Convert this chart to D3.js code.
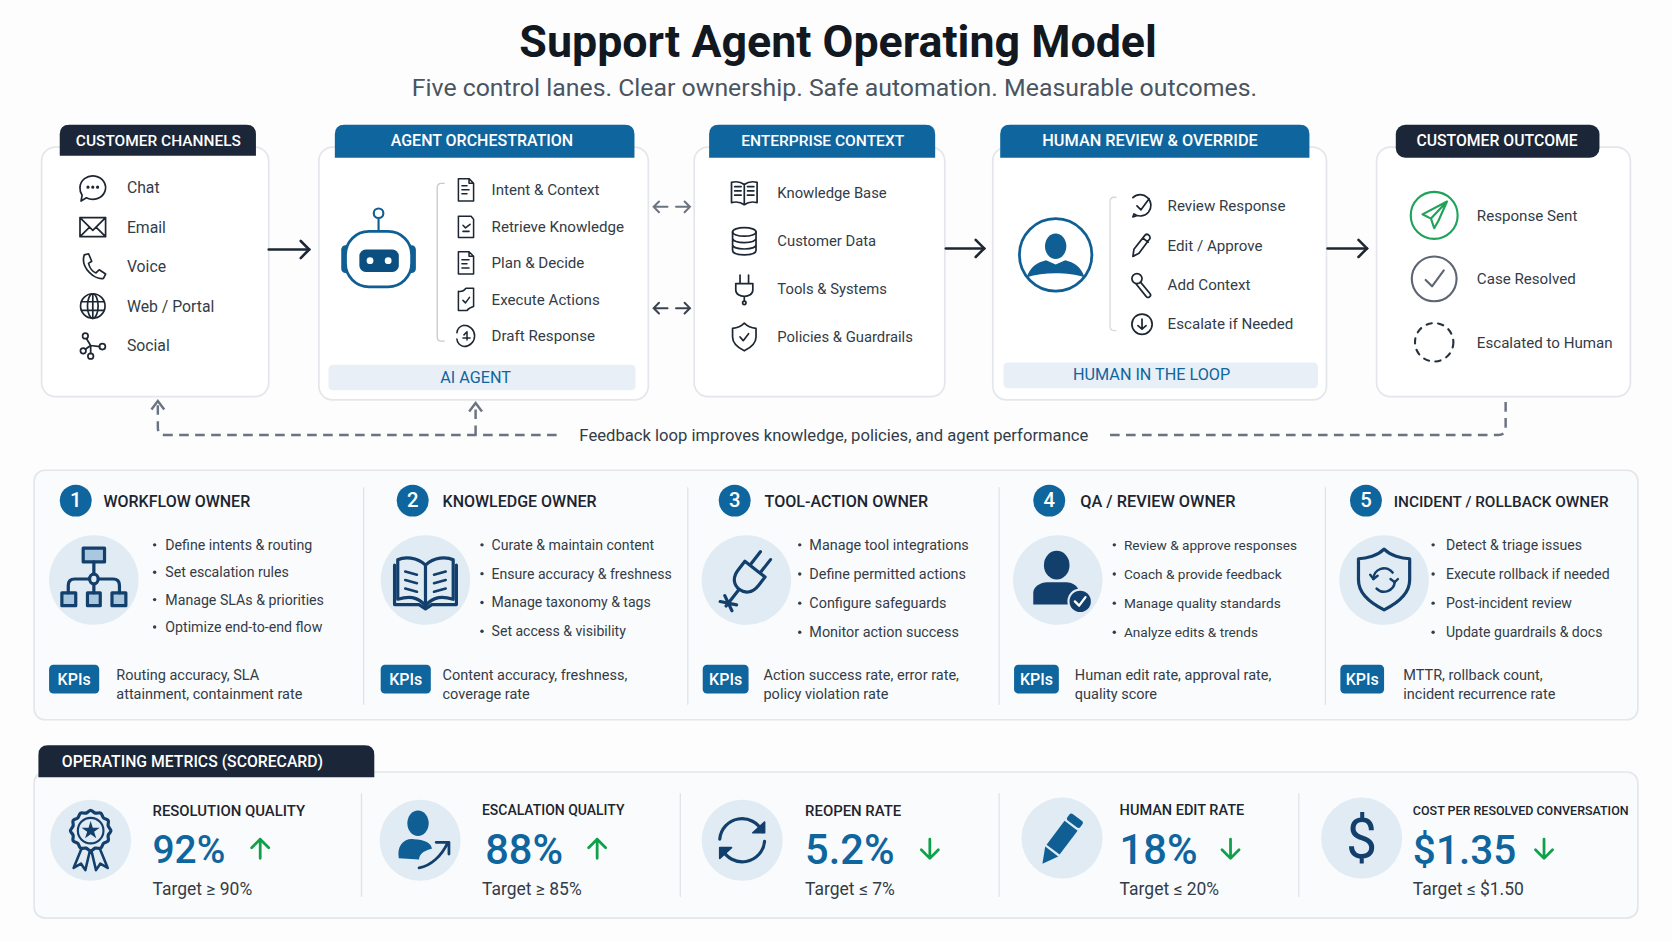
<!DOCTYPE html>
<html>
<head>
<meta charset="utf-8">
<script src="https://d3js.org/d3.v7.min.js"></script>
<style>
  html, body { margin: 0; padding: 0; background: #fdfdfe; }
  svg { display: block; }
  text { font-family: Roboto, sans-serif; }
</style>
</head>
<body>
<div id="main"></div>
<script>
var titleText = "Support Agent Operating Model";
var subtitleText = "Five control lanes. Clear ownership. Safe automation. Measurable outcomes.";
var laneTitles = ["CUSTOMER CHANNELS", "AGENT ORCHESTRATION", "ENTERPRISE CONTEXT", "HUMAN REVIEW & OVERRIDE", "CUSTOMER OUTCOME"];
var channels = ["Chat", "Email", "Voice", "Web / Portal", "Social"];
var orchestrationSteps = ["Intent & Context", "Retrieve Knowledge", "Plan & Decide", "Execute Actions", "Draft Response"];
var contextItems = ["Knowledge Base", "Customer Data", "Tools & Systems", "Policies & Guardrails"];
var reviewSteps = ["Review Response", "Edit / Approve", "Add Context", "Escalate if Needed"];
var outcomes = ["Response Sent", "Case Resolved", "Escalated to Human"];
var feedbackText = "Feedback loop improves knowledge, policies, and agent performance";

var ownerTitles = ["WORKFLOW OWNER", "KNOWLEDGE OWNER", "TOOL-ACTION OWNER", "QA / REVIEW OWNER", "INCIDENT / ROLLBACK OWNER"];
var ownerBullets = [
    ["Define intents & routing", "Set escalation rules", "Manage SLAs & priorities", "Optimize end-to-end flow"],
    ["Curate & maintain content", "Ensure accuracy & freshness", "Manage taxonomy & tags", "Set access & visibility"],
    ["Manage tool integrations", "Define permitted actions", "Configure safeguards", "Monitor action success"],
    ["Review & approve responses", "Coach & provide feedback", "Manage quality standards", "Analyze edits & trends"],
    ["Detect & triage issues", "Execute rollback if needed", "Post-incident review", "Update guardrails & docs"]
];
var ownerKpis = [
    ["Routing accuracy, SLA", "attainment, containment rate"],
    ["Content accuracy, freshness,", "coverage rate"],
    ["Action success rate, error rate,", "policy violation rate"],
    ["Human edit rate, approval rate,", "quality score"],
    ["MTTR, rollback count,", "incident recurrence rate"]
];

var scorecardTitle = "OPERATING METRICS (SCORECARD)";
var metricLabels = ["RESOLUTION QUALITY", "ESCALATION QUALITY", "REOPEN RATE", "HUMAN EDIT RATE", "COST PER RESOLVED CONVERSATION"];
var metricValues = ["92%", "88%", "5.2%", "18%", "$1.35"];
var metricTargets = ["Target ≥ 90%", "Target ≥ 85%", "Target ≤ 7%", "Target ≤ 20%", "Target ≤ $1.50"];
var metricTrends = ["up", "up", "down", "down", "down"];

// colours
var INK = "#1d2733", NAVY = "#1b2638", BLUE = "#0f659e", DEEP = "#123f6b", PALE = "#e1ebf4",
    GREEN = "#0fa04a", GRID = "#e3e6ea", BODY = "#333c47";

// the layout is worked out in the 1568 wide picture and scaled up by the viewBox
var svg = d3.select("#main").append("svg")
    .attr("width", 1672).attr("height", 941)
    .attr("viewBox", "0 0 1568 882.5");

var txt = function(parent, x, y, str, size, color, weight, anchor) {
    return parent.append("text")
        .attr("x", x).attr("y", y).attr("dy", "0.35em")
        .attr("font-size", size).attr("fill", color)
        .attr("font-weight", weight || 400)
        .attr("text-anchor", anchor || "start")
        .text(str);
};

// group for line icons, every icon is drawn around 0,0
var icon = function(parent, x, y, k, color, width) {
    return parent.append("g")
        .attr("transform", "translate(" + x + "," + y + ") scale(" + k + ")")
        .attr("fill", "none").attr("stroke", color).attr("stroke-width", width)
        .attr("stroke-linecap", "round").attr("stroke-linejoin", "round");
};
var p = function(g, d) { return g.append("path").attr("d", d); };
var c = function(g, x, y, r) { return g.append("circle").attr("cx", x).attr("cy", y).attr("r", r); };
var e = function(g, x, y, rx, ry) { return g.append("ellipse").attr("cx", x).attr("cy", y).attr("rx", rx).attr("ry", ry); };

var channelIcons = [
    function(g) {
        p(g, "M-12 0a12 11 0 1 1 6 9.5L-11 12.5L-10 7A12 11 0 0 1-12 0Z");
        [-4.5, 0, 4.5].forEach(function(x) { c(g, x, -0.5, 0.7); });
    },
    function(g) { p(g, "M-12-9H12V9H-12ZM-12-9L0 3L12-9M-12 9L-3 0M12 9L3 0"); },
    function(g) { p(g, "M-8-11L-4-12L-1-5L-4-3C-3 1 0 5 3 6L6 3L12 7L10 11C2 13-12 1-8-11Z"); },
    function(g) {
        c(g, 0, 0, 11.5); e(g, 0, 0, 5, 11.5);
        p(g, "M-10.5-4H10.5M-10.5 4H10.5M0-11.5V11.5");
    },
    function(g) {
        c(g, -7, -9, 2.6); c(g, 9, 1, 2.8); c(g, -9, 5, 2.6); c(g, -2, 10, 2.6);
        p(g, "M-6-6.5L-2 0L-7 3.5M-2 0L6.5 1M-2 0L-2 7.5");
    }
];

var doc = function(g) { p(g, "M-7.5-11H3L7.5-6.5V11H-7.5ZM3-11V-6.5H7.5"); };
var orchestrationIcons = [
    function(g) { doc(g); p(g, "M-4-4H1M-4 0H3M-4 4H1"); },
    function(g) { p(g, "M-7.5-10H5L7.5-7V11H-7.5ZM-3-1L-0.5 1.5L4-2M-3 5H3"); },
    function(g) { doc(g); p(g, "M-4-3H3M-4 1H1M-4 5H3"); },
    function(g) { p(g, "M-7.5-8Q-3-7 0-11H7.5V7Q3 8 1 11H-7.5ZM-3 1L-0.5 3.5L3.5-2"); },
    function(g) {
        p(g, "M-2-10.5A10 10 0 1 1-2 10.5A8 8 0 0 1-9 3M-9-3A8 8 0 0 1-2-10.5");
        p(g, "M-2-1L1-4V4M-3 2H4");
    }
];

var contextIcons = [
    function(g) {
        p(g, "M0-8C-4-11-8-11-12-10V9C-8 8-4 8 0 11C4 8 8 8 12 9V-10C8-11 4-11 0-8ZM0-8V11");
        p(g, "M-9-6H-3M-9-2H-3M-9 2H-3M9-6H3M9-2H3M9 2H3");
    },
    function(g) {
        e(g, 0, -8.5, 11, 4);
        p(g, "M-11-8.5V9C-11 11.5-6 13 0 13C6 13 11 11.5 11 9V-8.5M-11-2.5C-11 0-6 1.5 0 1.5C6 1.5 11 0 11-2.5M-11 3.5C-11 6-6 7.5 0 7.5C6 7.5 11 6 11 3.5");
    },
    function(g) {
        p(g, "M-4-13V-5M4-13V-5M-8-5H8V1C8 5 4 7 0 7C-4 7-8 5-8 1ZM0 7V11");
        c(g, 0, 13, 1.6);
    },
    function(g) { p(g, "M0-13C-3-10-7-8.5-11-8V0C-11 6-6 10 0 13C6 10 11 6 11 0V-8C7-8.5 3-10 0-13ZM-4 0L-1 3.5L4-3"); }
];

var reviewIcons = [
    function(g) { p(g, "M-9-8A10.5 10.5 0 1 1-8 8L-9 11L-6 10M-5 0L-1 4L7-7"); },
    function(g) { p(g, "M-9 11L-8 4L3-10C5-12 8-10 8-7L-3 8ZM1-7L6-3"); },
    function(g) { c(g, -5, -6, 5); p(g, "M-1.5-2.5L8 9A2 2 0 0 1 4 11.5L-6-1"); },
    function(g) { c(g, 0, 0, 10); p(g, "M0-5V5M-4 1.5L0 5L4 1.5"); }
];

var outcomeIcons = [
    function(g) {
        g.attr("stroke", "#1fa35a").attr("stroke-width", 2);
        c(g, 0, 0, 22);
        p(g, "M12-13L-11-1L-3 3L0 12L4 5ZM12-13L-3 3M12-13L4 5");
    },
    function(g) {
        g.attr("stroke", "#5d6672").attr("stroke-width", 2);
        c(g, 0, 0, 21);
        p(g, "M-8 1L-2 7L9-8");
    },
    function(g) {
        g.attr("stroke", "#27323f").attr("stroke-width", 2).attr("stroke-dasharray", "5 6");
        c(g, 0, 0, 18);
    }
];

// one card of the top row, header tab and all
var laneBoxes = [
    {x: 39, w: 213, h: 234, tx: 56, tw: 184, bottom: 146, fill: NAVY, lx: 148.5, size: 14.5},
    {x: 299, w: 309, h: 237, tx: 314, tw: 281, bottom: 148, fill: BLUE, lx: 452, size: 15},
    {x: 651, w: 235, h: 234, tx: 665, tw: 212, bottom: 148, fill: BLUE, lx: 771.5, size: 14.6},
    {x: 931, w: 313, h: 237, tx: 938, tw: 290, bottom: 148, fill: BLUE, lx: 1078.5, size: 15.3},
    {x: 1291, w: 238, h: 234, tx: 1309, tw: 191, bottom: 148, fill: NAVY, lx: 1404, size: 14.8, pill: true}
];

var topTab = function(x, y, w, b, r) {
    return "M" + x + " " + b + "V" + (y + r) + "Q" + x + " " + y + " " + (x + r) + " " + y +
        "H" + (x + w - r) + "Q" + (x + w) + " " + y + " " + (x + w) + " " + (y + r) + "V" + b + "Z";
};

svg.append("g").selectAll("rect").data(laneBoxes).enter().append("rect")
    .attr("x", function(d) { return d.x; }).attr("y", 138)
    .attr("width", function(d) { return d.w; }).attr("height", function(d) { return d.h; })
    .attr("rx", 13).attr("fill", "#fff").attr("stroke", GRID).attr("stroke-width", 1.6);

laneBoxes.forEach(function(d, i) {
    if (d.pill) {
        svg.append("rect").attr("x", d.tx).attr("y", 117).attr("width", d.tw)
            .attr("height", d.bottom - 117).attr("rx", 9).attr("fill", d.fill);
    } else {
        svg.append("path").attr("d", topTab(d.tx, 117, d.tw, d.bottom, 9)).attr("fill", d.fill);
    }
    txt(svg, d.lx, 132, laneTitles[i], d.size, "#fff", 500, "middle");
});

// item lists of the lanes
var drawList = function(items, icons, iconX, textX, y0, y1, k, width, size) {
    var y = d3.scalePoint().domain(items).range([y0, y1]);
    items.forEach(function(name, i) {
        icons[i](icon(svg, iconX, y(name), k, INK, width));
        txt(svg, textX, y(name), name, size, BODY, 400);
    });
};
drawList(channels, channelIcons, 87, 119, 176, 324, 1, 1.6, 14.8);
drawList(orchestrationSteps, orchestrationIcons, 437, 461, 178, 315, 0.95, 1.5, 14.2);
drawList(contextItems, contextIcons, 698, 729, 181, 316, 1, 1.6, 13.9);
drawList(reviewSteps, reviewIcons, 1071, 1095, 193, 304, 0.95, 1.7, 14.2);
drawList(outcomes, outcomeIcons, 1345, 1385, 202, 321, 1, 2, 14.2);

// list brackets
svg.append("path").attr("d", "M417 172H414Q410 172 410 176V316Q410 320 414 320H417")
    .attr("fill", "none").attr("stroke", "#c4cad1").attr("stroke-width", 1.2);
svg.append("path").attr("d", "M1047 185H1045Q1041 185 1041 189V306Q1041 310 1045 310H1047")
    .attr("fill", "none").attr("stroke", "#d4d8dd").attr("stroke-width", 1.2);

// robot
var robot = svg.append("g").attr("transform", "translate(355,243)");
robot.append("rect").attr("x", -35).attr("y", -13).attr("width", 70).attr("height", 26).attr("rx", 4).attr("fill", "#0f5f94");
robot.append("rect").attr("x", -31).attr("y", -26).attr("width", 62).attr("height", 52).attr("rx", 22)
    .attr("fill", "#fff").attr("stroke", "#0f5f94").attr("stroke-width", 2.6);
robot.append("path").attr("d", "M0-26V-38").attr("stroke", "#0f5f94").attr("stroke-width", 2);
robot.append("circle").attr("cy", -43).attr("r", 4.5).attr("fill", "#fff").attr("stroke", "#0f5f94").attr("stroke-width", 2);
robot.append("rect").attr("x", -18).attr("y", -9).attr("width", 37).attr("height", 21).attr("rx", 6).attr("fill", "#0b4f80");
robot.selectAll(".eye").data([-8, 9]).enter().append("circle").attr("class", "eye")
    .attr("cx", function(d) { return d; }).attr("cy", 1.5).attr("r", 3.2).attr("fill", "#fff");

// person in the review lane
var reviewer = svg.append("g").attr("transform", "translate(990,239)");
reviewer.append("circle").attr("r", 34).attr("fill", "#fff").attr("stroke", "#0f5f94").attr("stroke-width", 2.6);
reviewer.append("ellipse").attr("cy", -8).attr("rx", 10).attr("ry", 12).attr("fill", "#0f5f94");
reviewer.append("path").attr("d", "M-27 21C-24 11-17 7-9 5L0 9L9 5C17 7 24 11 27 21C12 16-12 16-27 21Z").attr("fill", "#0f5f94");

// footers of lanes 2 and 4
[{x: 308, w: 288, y: 342, cx: 446, name: "AI AGENT"}, {x: 941, w: 295, y: 340, cx: 1080, name: "HUMAN IN THE LOOP"}].forEach(function(d) {
    svg.append("rect").attr("x", d.x).attr("y", d.y).attr("width", d.w).attr("height", 24).attr("rx", 4).attr("fill", "#e9eff7");
    txt(svg, d.cx, d.y + 11.5, d.name, 15.2, BLUE, 400, "middle");
});

// flow arrows between lanes
[[252, 290, 234], [887, 923, 233], [1245, 1282, 233]].forEach(function(d) {
    var a = svg.append("g").attr("fill", "none").attr("stroke", INK).attr("stroke-width", 2.4).attr("stroke-linecap", "round");
    a.append("path").attr("d", "M" + d[0] + " " + d[2] + "H" + d[1]);
    a.append("path").attr("d", "M" + (d[1] - 8) + " " + (d[2] - 8) + "L" + d[1] + " " + d[2] + "L" + (d[1] - 8) + " " + (d[2] + 8));
});
[194, 289].forEach(function(y) {
    var a = svg.append("g").attr("fill", "none").attr("stroke", y === 194 ? "#6b7280" : "#3a4450").attr("stroke-width", 1.9).attr("stroke-linecap", "round");
    a.append("path").attr("d", "M613 " + y + "H626M618 " + (y - 5) + "L613 " + y + "L618 " + (y + 5));
    a.append("path").attr("d", "M634 " + y + "H647M642 " + (y - 5) + "L647 " + y + "L642 " + (y + 5));
});

// feedback loop
var loop = svg.append("g").attr("fill", "none").attr("stroke", "#6b7280").attr("stroke-width", 2.3);
loop.append("path").attr("d", "M522 408H155Q148 408 148 401V378").attr("stroke-dasharray", "9 6");
loop.append("path").attr("d", "M446 408V380").attr("stroke-dasharray", "9 6");
loop.append("path").attr("d", "M1041 408H1405Q1412 408 1412 401V373").attr("stroke-dasharray", "9 6");
loop.append("path").attr("d", "M142 384L148 376L154 384M440 386L446 378L452 386");
txt(svg, 782, 408, feedbackText, 15.6, BODY, 400, "middle");

// owner panel
svg.append("rect").attr("x", 32).attr("y", 441).attr("width", 1504).attr("height", 234)
    .attr("rx", 10).attr("fill", "#fafbfc").attr("stroke", GRID).attr("stroke-width", 1.6);
svg.append("g").selectAll("line").data([341, 645, 937, 1243]).enter().append("line")
    .attr("x1", function(d) { return d; }).attr("x2", function(d) { return d; })
    .attr("y1", 457).attr("y2", 661).attr("stroke", "#dfe3e7").attr("stroke-width", 1.2);

var ownerIcons = [
    function(g) {
        [[-10, -30, 20, 13], [-30, 12, 13, 12], [-6, 12, 12, 12], [17, 12, 13, 12]].forEach(function(b) {
            g.append("rect").attr("x", b[0]).attr("y", b[1]).attr("width", b[2]).attr("height", b[3]).attr("fill", "#a9c8df");
        });
        p(g, "M0-17V-5M0 3V12M-4-1H-18Q-24-1-24 5V12M4-1H18Q24-1 24 5V12");
        e(g, 0, -1, 4, 4.5).attr("fill", PALE);
    },
    function(g) {
        p(g, "M0-14C-8-22-20-22-26-19V18C-16 15-8 15 0 24C8 15 16 15 26 18V-19C20-22 8-22 0-14ZM0-14V24");
        p(g, "M-29-14V23H-6L0 27L6 23H29V-14");
        p(g, "M-19-8L-8-5M-19 0L-8 3M-19 8L-8 11M19-8L8-5M19 0L8 3M19 8L8 11").attr("stroke-width", 2.4);
    },
    function(g) {
        var r = g.append("g").attr("transform", "rotate(38)");
        p(r, "M-6-29V-13M6-29V-13M-12-13H12V-3C12 7 6 11 0 11C-6 11-12 7-12-3ZM0 11V31M-7 24L7 31M-7 31L7 24");
    },
    function(g) {
        e(g, -1, -14, 12, 13.5).attr("fill", DEEP).attr("stroke", "none");
        p(g, "M-23 23V12C-23 6-16 2-10 2H8C14 2 20 6 20 12V23Z").attr("fill", DEEP).attr("stroke", "none");
        c(g, 21, 20, 11).attr("fill", DEEP).attr("stroke", PALE).attr("stroke-width", 2);
        p(g, "M16 20L20 24L26 16").attr("stroke", "#fff").attr("stroke-width", 2.2);
    },
    function(g) {
        p(g, "M0-29C-6-23-16-20-24-20V0C-24 13-12 22 0 28C12 22 24 13 24 0V-20C16-20 6-23 0-29Z");
        p(g, "M-10-1A10 10 0 0 1 8-7M10 2A10 10 0 0 1-7 8").attr("stroke-width", 2.4);
        p(g, "M-13-5L-10-1L-6-4M13-1L10 2L6-1").attr("stroke-width", 2.2);
    }
];

var ownerCols = [
    {badge: 71, head: 97, headSize: 15, art: 88, dot: 145, gap: 10, size: 13.3, lastY: 588, kpi: 46, kw: 47, line: 109},
    {badge: 387, head: 415, headSize: 15, art: 399, dot: 452, gap: 9, size: 13.2, lastY: 592, kpi: 357, kw: 47, line: 415},
    {badge: 689, head: 717, headSize: 15.1, art: 700, dot: 750, gap: 9, size: 13.5, lastY: 593, kpi: 659, kw: 43, line: 716},
    {badge: 984, head: 1013, headSize: 15.3, art: 992, dot: 1045, gap: 9, size: 12.8, lastY: 593, kpi: 951, kw: 42, line: 1008},
    {badge: 1281, head: 1307, headSize: 14.4, art: 1298, dot: 1344, gap: 12, size: 13.2, lastY: 593, kpi: 1257, kw: 41, line: 1316}
];

ownerCols.forEach(function(col, i) {
    svg.append("circle").attr("cx", col.badge).attr("cy", 469.5).attr("r", 15).attr("fill", BLUE);
    txt(svg, col.badge, 469, String(i + 1), 19, "#fff", 500, "middle");
    txt(svg, col.head, 470, ownerTitles[i], col.headSize, "#1c2530", 500);

    svg.append("circle").attr("cx", col.art).attr("cy", 544).attr("r", 42).attr("fill", PALE);
    ownerIcons[i](icon(svg, col.art, 544, 1, DEEP, 3));

    var bulletY = d3.scalePoint().domain(ownerBullets[i]).range([511, col.lastY]);
    ownerBullets[i].forEach(function(name) {
        svg.append("circle").attr("cx", col.dot).attr("cy", bulletY(name)).attr("r", 1.6).attr("fill", BODY);
        txt(svg, col.dot + col.gap, bulletY(name), name, col.size, BODY, 400);
    });

    svg.append("rect").attr("x", col.kpi).attr("y", 623.5).attr("width", col.kw).attr("height", 27)
        .attr("rx", 4).attr("fill", BLUE);
    txt(svg, col.kpi + col.kw / 2, 637, "KPIs", 15, "#fff", 500, "middle");
    ownerKpis[i].forEach(function(line, j) {
        txt(svg, col.line, 632.5 + j * 18.5, line, 13.6, BODY, 400);
    });
});

// scorecard
svg.append("rect").attr("x", 32).attr("y", 724).attr("width", 1504).attr("height", 137)
    .attr("rx", 10).attr("fill", "#fafbfc").attr("stroke", GRID).attr("stroke-width", 1.6);
svg.append("path").attr("d", topTab(36, 699, 315, 729, 9)).attr("fill", NAVY);
txt(svg, 58, 714, scorecardTitle, 14.8, "#fff", 500);
svg.append("g").selectAll("line").data([339, 638, 937, 1218]).enter().append("line")
    .attr("x1", function(d) { return d; }).attr("x2", function(d) { return d; })
    .attr("y1", 744).attr("y2", 841).attr("stroke", "#dfe3e7").attr("stroke-width", 1.2);

var metricIcons = [
    function(g) {
        var scallop = d3.lineRadial().curve(d3.curveCardinalClosed)
            .angle(function(d) { return d / 24 * 2 * Math.PI; })
            .radius(function(d) { return d % 2 ? 17 : 19; });
        p(g, scallop(d3.range(24))).attr("transform", "translate(0,-9)");
        c(g, 0, -9, 12).attr("stroke-width", 2);
        p(g, d3.symbol(d3.symbolStar).size(90)()).attr("transform", "translate(0,-9)").attr("fill", DEEP).attr("stroke", "none");
        p(g, "M-9 9L-16 26L-9 22L-5 28L-1 11M9 9L16 26L9 22L5 28L1 11").attr("stroke-width", 2.4);
    },
    function(g) {
        e(g, -2, -16, 10, 12).attr("fill", "#0f5f94").attr("stroke", "none");
        p(g, "M-20 17C-22 6-16-2-6-1C4-1 11 3 11 8C6 9-1 12-1 18Z").attr("fill", "#0f5f94").attr("stroke", "none");
        p(g, "M-1 26C10 24 20 15 26 2M15 2H27V13").attr("stroke-width", 2.6).attr("stroke", DEEP);
    },
    function(g) {
        p(g, "M-21-1A21 21 0 0 1 19-8M21 1A21 21 0 0 1-19 8").attr("stroke-width", 3);
        p(g, "M10-7H21V-17Z M-10 7H-21V17Z").attr("fill", DEEP).attr("stroke-width", 1.6);
    },
    function(g) {
        var r = g.append("g").attr("transform", "translate(-1,1) rotate(37) scale(0.85)").attr("stroke", "none").attr("fill", "#0f5f94");
        r.append("rect").attr("x", -9).attr("y", -30).attr("width", 18).attr("height", 9).attr("rx", 3);
        r.append("rect").attr("x", -9).attr("y", -18.5).attr("width", 18).attr("height", 33);
        r.append("path").attr("d", "M-9 17H9L0 34Z");
    },
    function(g) {
        g.append("text").attr("text-anchor", "middle").attr("y", 19).attr("font-size", 52).attr("font-weight", 400)
            .attr("fill", DEEP).attr("stroke", "none").text("$");
    }
];

var metricCols = [
    {art: 85, cy: 788, x: 143, vx: 143, arrow: 244, labelSize: 14, valueSize: 36.5},
    {art: 394, cy: 788, x: 452, vx: 455, arrow: 560, labelSize: 13.1, valueSize: 39},
    {art: 696, cy: 788, x: 755, vx: 755, arrow: 872, labelSize: 14, valueSize: 39},
    {art: 996, cy: 786, x: 1050, vx: 1050, arrow: 1154, labelSize: 13.6, valueSize: 39},
    {art: 1277, cy: 786, x: 1325, vx: 1325, arrow: 1448, labelSize: 11.7, valueSize: 38}
];

metricCols.forEach(function(col, i) {
    svg.append("circle").attr("cx", col.art).attr("cy", col.cy).attr("r", 38).attr("fill", PALE);
    metricIcons[i](icon(svg, col.art, col.cy, 1, DEEP, 3));
    txt(svg, col.x, 760, metricLabels[i], col.labelSize, "#1c2530", 500);
    txt(svg, col.vx, 797, metricValues[i], col.valueSize, BLUE, 500);
    txt(svg, col.x, 834, metricTargets[i], 16.4, BODY, 400);
    var dir = metricTrends[i] === "up" ? -1 : 1;
    var a = icon(svg, col.arrow, 796, 1, GREEN, 2.6);
    p(a, "M0 " + (-dir * 9) + "V" + (dir * 9) + "M-8 " + (dir) + "L0 " + (dir * 9) + "L8 " + (dir));
});

// title last
txt(svg, 786, 39, titleText, 42, "#11181f", 700, "middle");
txt(svg, 782.5, 82, subtitleText, 23.3, "#4a5560", 400, "middle");
</script>
</body>
</html>
